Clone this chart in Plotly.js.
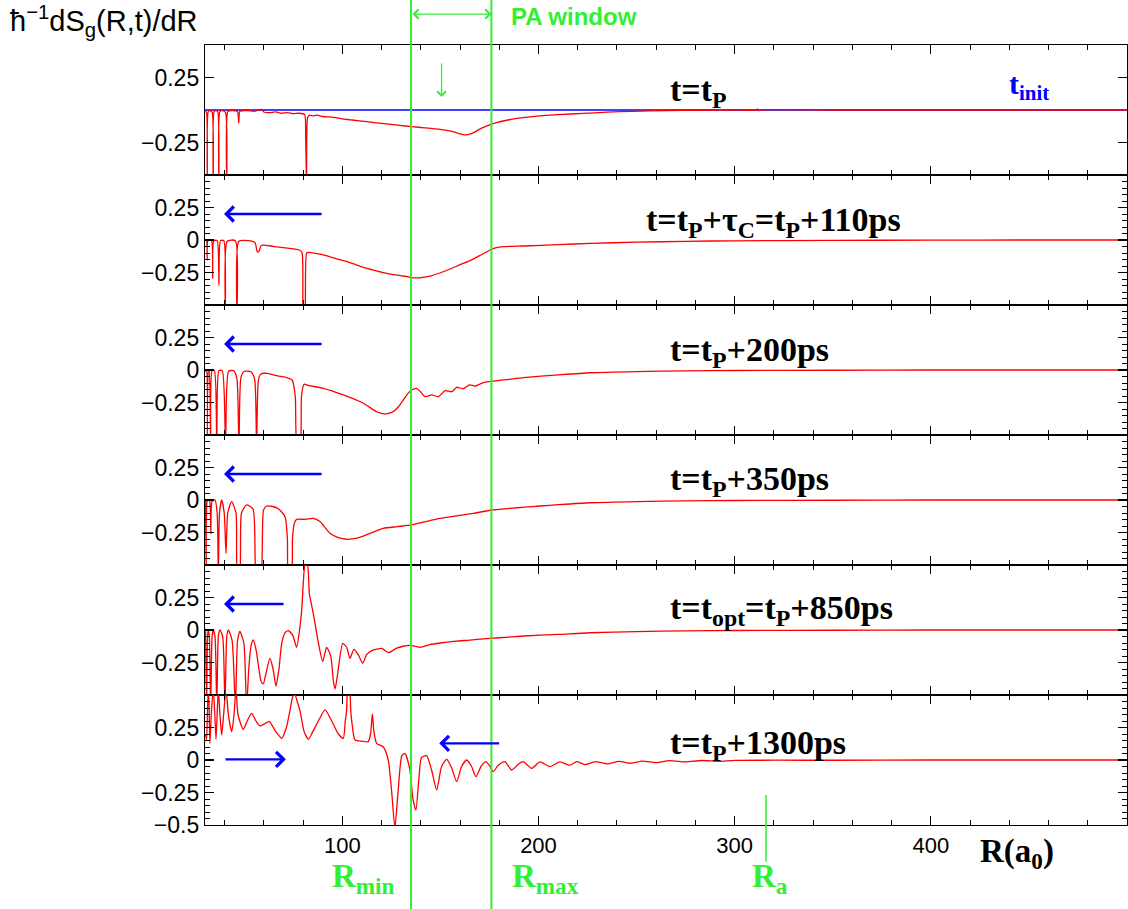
<!DOCTYPE html>
<html>
<head>
<meta charset="utf-8">
<script src="https://cdn.plot.ly/plotly-3.0.1.min.js"></script>
<style>html,body{margin:0;padding:0;background:#fff}</style>
</head>
<body>
<div id="chart" style="width:1128px;height:909px"></div>
<script>
// Initial flux (t_init) and the flux at successive delays after the pulse
const R_init = [30, 500];
const S_init = [0, 0];

const R_tP = [30.3,30.8,31.2,31.7,32.7,33.7,34.2,34.7,35.8,36.6,37.1,37.6,39.0,40.5,41.1,41.7,44.0,46.5,47.2,47.8,52,55,58.9,60,63,66,69,72,75,78,80.8,81.3,81.8,82.3,83.3,85,87,90,95.4,100,105,112.4,120,129.4,135.3,142,149.8,156,162.5,166,171,176.1,185,197,210,222.7,235,248,265,282,300,311,311.6,312.2,313,350,400,450,500];
const S_tP = [-0.01,-0.02,-0.6,-0.01,-0.005,-0.02,-0.6,-0.01,-0.005,-0.02,-0.6,-0.01,-0.005,-0.02,-0.6,-0.01,-0.005,-0.01,-0.1,-0.01,-0.005,-0.01,0.005,-0.015,-0.02,-0.015,-0.025,-0.02,-0.028,-0.025,-0.035,-0.2,-0.6,-0.06,-0.04,-0.045,-0.04,-0.05,-0.056,-0.068,-0.077,-0.09,-0.103,-0.118,-0.128,-0.137,-0.149,-0.165,-0.192,-0.18,-0.14,-0.108,-0.075,-0.051,-0.036,-0.026,-0.017,-0.01,-0.005,-0.002,0,0,0.008,-0.005,0,0,0,0,0];

const R_110 = [30.3,30.8,31.1,31.5,33.3,33.9,34.5,36.2,37.1,37.9,39.6,40.4,41.3,45.5,46.3,47.2,52,55.5,56.6,57.4,58.8,65,72,78.2,79.5,80.2,80.8,81.8,83,90.3,95,100.5,105,110.7,116,120.9,126,131.1,134,137.9,141,144.7,150,155,160,165.2,170,175.4,178.5,182.2,192.4,210,226.4,250,275,300,350,400,450,500];
const S_110 = [-0.005,-0.005,-0.154,-0.005,-0.005,-0.295,-0.005,-0.005,-0.35,-0.005,-0.005,-0.6,-0.01,-0.005,-0.6,-0.01,-0.005,-0.02,-0.09,-0.09,-0.04,-0.05,-0.062,-0.077,-0.1,-0.6,-0.6,-0.1,-0.095,-0.115,-0.135,-0.159,-0.18,-0.21,-0.232,-0.251,-0.266,-0.277,-0.285,-0.292,-0.288,-0.277,-0.252,-0.223,-0.19,-0.159,-0.12,-0.077,-0.058,-0.051,-0.046,-0.036,-0.026,-0.017,-0.01,-0.006,-0.003,-0.001,0,0];

const R_200 = [30.3,30.8,31.2,31.7,32.1,32.9,33.6,34.8,36.0,37.1,38.8,40.5,42.0,44.5,46.2,47.3,48.3,50,53.5,55.3,56.3,57.2,58.5,61.7,67,72,74.4,76,77,78.4,79.2,80.5,83,90.3,100.5,110.7,117.5,121.7,126,128.5,131.1,133.5,135.3,137.9,140,142.1,145.6,149,152.4,155.8,158.3,161.7,164.8,167.7,171.9,176.2,185,192.4,210,226.3,250,275,300,350,400,450,500];
const S_200 = [-0.013,-0.01,-0.6,-0.01,-0.005,-0.6,-0.005,-0.005,-0.6,-0.005,-0.005,-0.6,-0.01,-0.005,-0.06,-0.6,-0.06,-0.01,-0.015,-0.07,-0.6,-0.08,-0.03,-0.026,-0.045,-0.06,-0.077,-0.2,-0.6,-0.6,-0.2,-0.11,-0.12,-0.141,-0.192,-0.256,-0.321,-0.338,-0.32,-0.285,-0.23,-0.18,-0.154,-0.141,-0.17,-0.205,-0.192,-0.205,-0.159,-0.167,-0.133,-0.144,-0.115,-0.123,-0.097,-0.087,-0.072,-0.059,-0.038,-0.021,-0.012,-0.007,-0.004,-0.002,0,0,0];

const R_350 = [30.3,30.6,31.1,31.7,32.4,33.0,33.6,35.1,36.2,36.8,37.4,38.5,39.8,40.7,41.6,43.6,45.8,46.6,47.6,48.6,51.2,54.5,56.3,58.3,59.8,61.4,64.5,67.4,70.8,72,72.6,74,74.6,75.5,76.7,81,85.2,88.6,93.7,98,102.2,106,110.7,116,120.9,128,135.3,142,149.8,158,166.8,176.1,185.4,193,200.7,210,226.2,250,275,300,350,400,450,500];
const S_350 = [-0.005,-0.6,-0.01,0,-0.01,-0.26,-0.01,0,-0.1,-0.6,-0.1,0,-0.1,-0.41,-0.1,-0.013,-0.1,-0.6,-0.6,-0.1,-0.038,-0.07,-0.6,-0.6,-0.08,-0.046,-0.05,-0.067,-0.128,-0.3,-0.6,-0.6,-0.3,-0.18,-0.149,-0.149,-0.141,-0.166,-0.256,-0.29,-0.302,-0.297,-0.277,-0.245,-0.218,-0.205,-0.192,-0.168,-0.141,-0.122,-0.103,-0.077,-0.064,-0.055,-0.046,-0.036,-0.021,-0.012,-0.007,-0.004,-0.002,0,0,0];

const R_850 = [30.3,30.8,31.3,31.7,32.2,32.9,33.6,34.2,35.1,36,36.8,37.6,39,40.2,41.1,41.9,43.8,45.5,46.6,47.8,49.8,51.2,52.3,53.5,54.6,56,57.2,58.5,59.7,61,63.1,64.7,66.2,67.7,69.1,70.8,72.5,74.7,76.7,78.4,79.3,80.2,81,82.2,83.2,85.2,87.8,90,92,94.1,95.5,96.3,97.5,100.2,102.2,103.9,105.9,108.1,110.4,112.4,115,117.5,120.1,123.5,127.7,131,134.5,139.6,144.7,150,158.3,165,175.3,185,192.2,210,226.2,250,275,300,350,400,450,500];
const S_850 = [-0.01,-0.6,-0.05,0,-0.05,-0.6,-0.05,0,-0.05,-0.6,-0.05,0,-0.05,-0.6,-0.05,0,-0.08,-0.6,-0.08,-0.01,-0.1,-0.6,-0.3,-0.12,-0.077,-0.15,-0.27,-0.39,-0.415,-0.34,-0.218,-0.3,-0.431,-0.3,-0.103,-0.02,-0.005,-0.04,-0.133,0.025,0.154,0.385,0.5,0.5,0.28,0.128,-0.1,-0.244,-0.133,-0.2,-0.4,-0.454,-0.35,-0.103,-0.133,-0.218,-0.149,-0.19,-0.256,-0.19,-0.159,-0.147,-0.141,-0.174,-0.14,-0.125,-0.118,-0.133,-0.112,-0.1,-0.085,-0.078,-0.064,-0.055,-0.046,-0.034,-0.021,-0.012,-0.007,-0.004,-0.002,0,0,0];

const R_1300 = [30.3,30.8,31.3,31.7,32.1,32.5,33.2,34.2,35.0,35.6,36.2,36.8,37.6,38.5,39.5,40.7,41.9,43.6,44.8,45.8,46.8,49.5,51.5,53.8,56,58,60.5,62.8,66,69.1,71.5,73.3,74.8,75.9,77,78.4,80.5,82.7,85,87.8,91.2,94.6,98,100.5,101.5,102.2,102.8,103.6,104.3,104.8,106.5,110,113.2,114.4,115.3,116.1,117.5,120.9,123.4,125.2,126.8,128.5,130.3,131.9,134.4,136,137.5,139,140.4,142.9,145.5,148.1,150.6,153.2,155.7,158.3,160.8,163.4,165.9,168.1,170.7,173.2,175.3,176.9,179.5,182.9,186.3,189.7,192.2,196.5,200.7,205.8,210.9,216,219.4,223.7,229,235,241,247,253,260,267,275,283,292,300,350,400,450,500];
const S_1300 = [0.2,0.154,0.4,0.55,0.4,0.128,0.35,0.55,0.35,0.16,0.35,0.55,0.35,0.192,0.35,0.55,0.35,0.218,0.35,0.55,0.35,0.236,0.3,0.359,0.3,0.262,0.28,0.295,0.22,0.167,0.25,0.38,0.49,0.5,0.45,0.38,0.22,0.159,0.22,0.3,0.385,0.3,0.2,0.167,0.3,0.38,0.55,0.55,0.38,0.3,0.154,0.145,0.141,0.2,0.354,0.22,0.128,0.1,0.0,-0.25,-0.52,-0.23,0.03,0.051,-0.07,-0.3,-0.385,-0.15,0.02,0.033,-0.077,-0.231,-0.05,0.005,-0.06,-0.167,-0.05,0.0,-0.05,-0.128,-0.05,-0.013,-0.05,-0.09,-0.04,-0.013,-0.077,-0.033,-0.013,-0.064,-0.015,-0.051,-0.015,-0.04,-0.013,-0.035,-0.012,-0.03,-0.01,-0.025,-0.008,-0.02,-0.005,-0.015,-0.004,-0.01,-0.003,-0.002,0,0,0];

// Panel captions, the y tick values of each panel, and the marked radii
const captions = [
  't=t<sub>P</sub>',
  't=t<sub>P</sub>+τ<sub>C</sub>=t<sub>P</sub>+110ps',
  't=t<sub>P</sub>+200ps',
  't=t<sub>P</sub>+350ps',
  't=t<sub>opt</sub>=t<sub>P</sub>+850ps',
  't=t<sub>P</sub>+1300ps'
];
const yTicks = [
  [0.25, -0.25],
  [0.25, 0, -0.25],
  [0.25, 0, -0.25],
  [0.25, 0, -0.25],
  [0.25, 0, -0.25],
  [0.25, 0, -0.25, -0.5]
];
const R_min = 135, R_max = 176, R_a = 316;
const xRange = [30, 500];

const curves = [[R_tP, S_tP], [R_110, S_110], [R_200, S_200], [R_350, S_350], [R_850, S_850], [R_1300, S_1300]];

const SANS = 'Liberation Sans, Arial, sans-serif';
const SERIF = 'Liberation Serif, Times New Roman, serif';
const GREEN = '#33ee33';
const N = 6;
const ax = k => (k === 1 ? '' : String(k));

const traces = [{
  x: R_init, y: S_init, xaxis: 'x', yaxis: 'y', mode: 'lines',
  line: {color: '#0000ff', width: 1.3}, hoverinfo: 'skip'
}];
curves.forEach((c, i) => {
  traces.push({
    x: c[0], y: c[1], xaxis: 'x' + ax(i + 1), yaxis: 'y' + ax(i + 1), mode: 'lines',
    line: {color: '#ff0000', width: 1.3, shape: 'spline', smoothing: 0.6}, hoverinfo: 'skip'
  });
});

const layout = {
  width: 1128, height: 909,
  margin: {l: 205, r: 1, t: 45, b: 84},
  paper_bgcolor: '#ffffff', plot_bgcolor: '#ffffff',
  showlegend: false,
  font: {family: SANS, size: 22, color: '#000'},
  annotations: [], shapes: []
};

const captionY = [0.14, 0.14, 0.14, 0.146, 0.154, 0.115];
for (let k = 1; k <= N; k++) {
  layout['xaxis' + ax(k)] = {
    domain: [0, 1], range: xRange, anchor: 'y' + ax(k),
    showline: true, linecolor: '#000', linewidth: 1.2, mirror: 'ticks',
    ticks: 'inside', ticklen: 9, tickwidth: 1.2, tickcolor: '#000',
    tickmode: 'linear', tick0: 0, dtick: 100,
    minor: {tickmode: 'linear', tick0: 0, dtick: 20, ticks: 'inside', ticklen: 5, tickwidth: 1, tickcolor: '#000'},
    showgrid: false, zeroline: false,
    showticklabels: k === N,
    tickfont: {family: SANS, size: 22, color: '#000'}
  };
  const y = {
    domain: [1 - k / N, 1 - (k - 1) / N], range: [-0.5, 0.5], anchor: 'x' + ax(k),
    showline: true, linecolor: '#000', linewidth: 1.2, mirror: 'ticks',
    ticks: 'inside', ticklen: 9, tickwidth: 1.2, tickcolor: '#000',
    tickmode: 'array', tickvals: yTicks[k - 1],
    showgrid: false, zeroline: false,
    tickfont: {family: SANS, size: 23, color: '#000'}
  };
  if (k > 1) {
    y.minor = {tickmode: 'linear', tick0: 0, dtick: 0.05, ticks: 'inside', ticklen: 5, tickwidth: 1, tickcolor: '#000'};
  }
  layout['yaxis' + ax(k)] = y;

  // time caption of the panel
  layout.annotations.push({
    xref: 'x' + ax(k), yref: 'y' + ax(k), x: k === 2 ? 254 : 266, y: captionY[k - 1],
    xanchor: 'left', yanchor: 'middle', showarrow: false, text: '<b>' + captions[k - 1] + '</b>',
    font: {family: SERIF, size: 34, color: '#000'}
  });
}

// blue arrows showing the direction of the flux
const arrows = [
  {k: 2, from: [90.2, 0.2], to: [39.7, 0.2]},
  {k: 3, from: [90.2, 0.2], to: [39.7, 0.2]},
  {k: 4, from: [90.2, 0.2], to: [39.7, 0.2]},
  {k: 5, from: [70.8, 0.2], to: [39.7, 0.2]},
  {k: 6, from: [39.7, 0.005], to: [71.2, 0.005]},
  {k: 6, from: [180.7, 0.128], to: [149.4, 0.128]}
];
arrows.forEach(a => {
  layout.annotations.push({
    xref: 'x' + ax(a.k), yref: 'y' + ax(a.k), x: a.to[0], y: a.to[1],
    axref: 'x' + ax(a.k), ayref: 'y' + ax(a.k), ax: a.from[0], ay: a.from[1],
    text: '', showarrow: true, arrowhead: 4, arrowsize: 1.2, arrowwidth: 2.4, arrowcolor: '#0000ff'
  });
});

// t_init label
layout.annotations.push({
  xref: 'x', yref: 'y', x: 439, y: 0.185, xanchor: 'left', yanchor: 'middle', showarrow: false,
  text: '<b>t<sub>init</sub></b>', font: {family: SERIF, size: 30, color: '#0000ff'}
});

// small green marker arrow in the first panel
layout.annotations.push({
  xref: 'x', yref: 'y', x: 150.6, y: 0.1, axref: 'x', ayref: 'y', ax: 150.6, ay: 0.37,
  text: '', showarrow: true, arrowhead: 4, arrowsize: 1.3, arrowwidth: 1.3, arrowcolor: GREEN
});

// PA window span arrow and label
layout.annotations.push({
  xref: 'x', yref: 'paper', x: R_max, y: 1.0397, axref: 'x', ayref: 'pixel', ax: R_min, ay: 0,
  text: '', showarrow: true, arrowhead: 4, startarrowhead: 4, arrowside: 'end+start',
  arrowsize: 1.4, startarrowsize: 1.4, arrowwidth: 1.3, arrowcolor: GREEN
});
layout.annotations.push({
  xref: 'x', yref: 'paper', x: 185, y: 1.037, xanchor: 'left', yanchor: 'middle', showarrow: false,
  text: '<b>PA window</b>', font: {family: SANS, size: 24, color: GREEN}
});

// axis titles
layout.annotations.push({
  xref: 'paper', yref: 'paper', x: -0.2137, y: 1.031, xanchor: 'left', yanchor: 'middle', showarrow: false,
  text: 'ħ<sup>−1</sup>dS<sub>g</sub>(R,t)/dR', font: {family: SANS, size: 29, color: '#000'}
});
layout.annotations.push({
  xref: 'x6', yref: 'paper', x: 424, y: -0.036, xanchor: 'left', yanchor: 'middle', showarrow: false,
  text: '<b>R(a<sub>0</sub>)</b>', font: {family: SERIF, size: 33, color: '#000'}
});

// radius markers
[[R_min, 'R<sub>min</sub>', 93.7], [R_max, 'R<sub>max</sub>', 185.5], [R_a, 'R<sub>a</sub>', 307.8]].forEach(m => {
  layout.annotations.push({
    xref: 'x6', yref: 'paper', x: m[2], y: -0.04, xanchor: 'left', yanchor: 'top', showarrow: false,
    text: '<b>' + m[1] + '</b>', font: {family: SERIF, size: 33, color: GREEN}
  });
});
layout.shapes.push(
  {type: 'line', xref: 'x', yref: 'paper', x0: R_min, x1: R_min, y0: -0.11, y1: 1.06, line: {color: GREEN, width: 2}, layer: 'above'},
  {type: 'line', xref: 'x', yref: 'paper', x0: R_max, x1: R_max, y0: -0.11, y1: 1.06, line: {color: GREEN, width: 2}, layer: 'above'},
  {type: 'line', xref: 'x6', yref: 'paper', x0: R_a, x1: R_a, y0: -0.047, y1: 0.0385, line: {color: GREEN, width: 1.5}, layer: 'above'}
);

Plotly.newPlot('chart', traces, layout, {staticPlot: true, displayModeBar: false});
</script>
</body>
</html>
